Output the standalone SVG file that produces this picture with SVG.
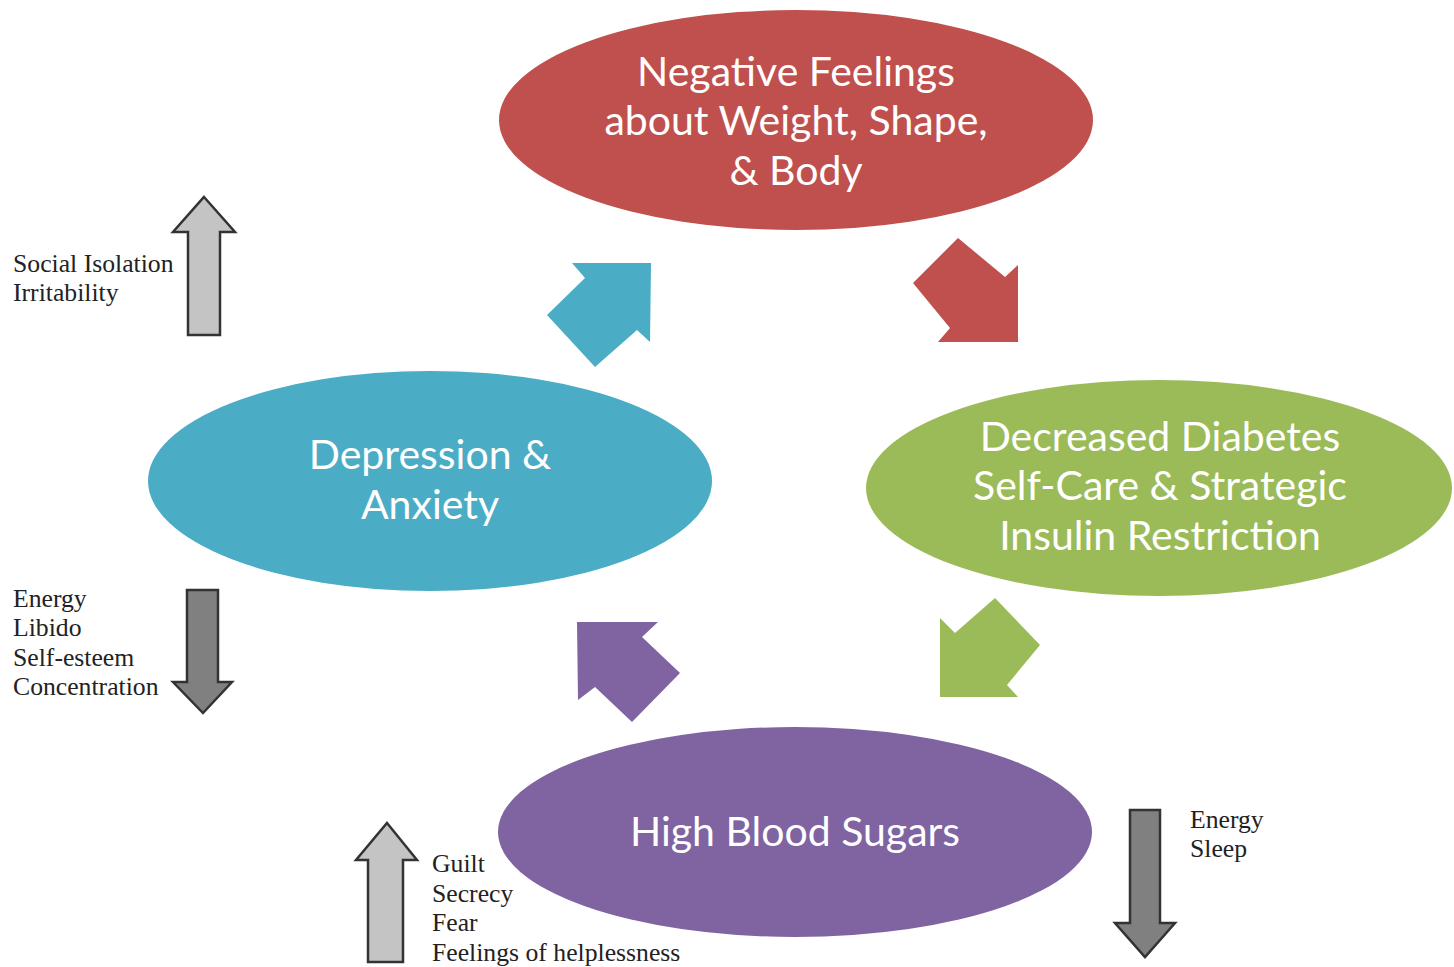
<svg xmlns="http://www.w3.org/2000/svg" width="1454" height="967" viewBox="0 0 1454 967">
<style>
.node-text{font-family:Lato,"Liberation Sans",sans-serif;font-size:41px;fill:#ffffff;text-anchor:middle}
.side{font-family:"Liberation Serif","Times New Roman",serif;font-size:25.7px;fill:#222222}
.red{fill:#C0504D}.blue{fill:#4BACC6}.green{fill:#9BBB59}.purple{fill:#8064A2}
.up{fill:#C4C4C4;stroke:#333333;stroke-width:2.5}
.down{fill:#808080;stroke:#333333;stroke-width:2.5}
</style>
<rect width="1454" height="967" fill="#ffffff"/>
<g id="node-negative-feelings">
<ellipse class="red" cx="796" cy="120" rx="297" ry="110"/>
<text class="node-text"><tspan x="796" y="86">Negative Feelings</tspan><tspan x="796" y="135">about Weight, Shape,</tspan><tspan x="796" y="185">&amp; Body</tspan></text>
</g>
<g id="node-depression">
<ellipse class="blue" cx="430" cy="481" rx="282" ry="110"/>
<text class="node-text"><tspan x="430" y="469">Depression &amp;</tspan><tspan x="430" y="519">Anxiety</tspan></text>
</g>
<g id="node-self-care">
<ellipse class="green" cx="1159" cy="488" rx="293" ry="108"/>
<text class="node-text"><tspan x="1160" y="451">Decreased Diabetes</tspan><tspan x="1160" y="500">Self-Care &amp; Strategic</tspan><tspan x="1160" y="550">Insulin Restriction</tspan></text>
</g>
<g id="node-high-blood-sugars">
<ellipse class="purple" cx="795" cy="832" rx="297" ry="105"/>
<text class="node-text"><tspan x="795" y="846">High Blood Sugars</tspan></text>
</g>
<g id="connectors">
<polygon class="blue" points="572,263 651,263 650,342 637,330 595,367 547,315 585,278"/>
<polygon class="red" points="958,238 1005,277 1018,265 1018,342 938,342 950,328 913,283"/>
<polygon class="green" points="995,598 1040,645 1007,685 1018,697 940,697 940,618 955,633"/>
<polygon class="purple" points="577,622 658,622 642,637 680,673 632,722 595,687 578,700"/>
</g>
<g id="side-social">
<polygon class="up" points="204,197 235,232 220,232 220,335 188,335 188,232 173,232"/>
<text class="side"><tspan x="13" y="272">Social Isolation</tspan><tspan x="13" y="301">Irritability</tspan></text>
</g>
<g id="side-energy-left">
<polygon class="down" points="187,590 218,590 218,682 232,682 203,713 173,682 187,682"/>
<text class="side"><tspan x="13" y="607">Energy</tspan><tspan x="13" y="636">Libido</tspan><tspan x="13" y="666">Self-esteem</tspan><tspan x="13" y="695">Concentration</tspan></text>
</g>
<g id="side-guilt">
<polygon class="up" points="387,823 417,860 403,860 403,962 368,962 368,860 356,860"/>
<text class="side"><tspan x="432" y="872">Guilt</tspan><tspan x="432" y="902">Secrecy</tspan><tspan x="432" y="931">Fear</tspan><tspan x="432" y="961">Feelings of helplessness</tspan></text>
</g>
<g id="side-energy-right">
<polygon class="down" points="1130,810 1160,810 1160,923 1175,923 1145,957 1115,923 1130,923"/>
<text class="side"><tspan x="1190" y="828">Energy</tspan><tspan x="1190" y="857">Sleep</tspan></text>
</g>
</svg>
